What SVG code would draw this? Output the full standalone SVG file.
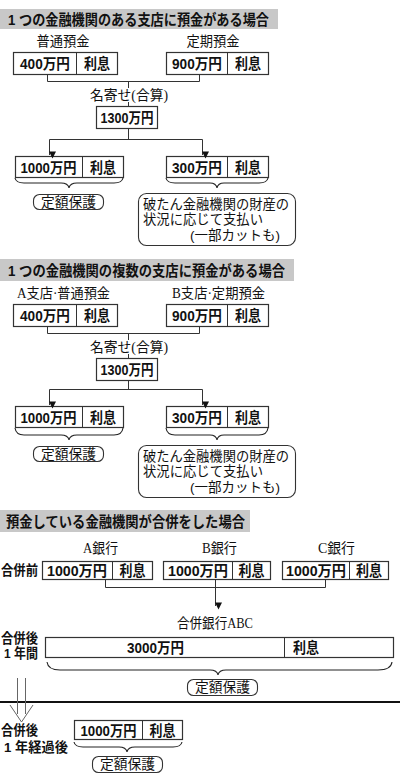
<svg xmlns="http://www.w3.org/2000/svg" width="400" height="774" viewBox="0 0 400 774">
<defs>
<marker id="ah" markerWidth="8" markerHeight="8" refX="4" refY="7" orient="auto-start-reverse" markerUnits="userSpaceOnUse" viewBox="0 0 8 8">
<path d="M0.5,0.5 L7.5,0.5 L4,7.5 Z" fill="#111" transform="rotate(-90 4 4)"/>
</marker>
<style>
.hd{fill:#c8c8c8}
.h{font-family:"Liberation Sans","Noto Sans CJK JP",sans-serif;font-weight:bold;font-size:14.5px;fill:#111}
.b{font-family:"Liberation Sans","Noto Sans CJK JP",sans-serif;font-weight:bold;font-size:14.5px;fill:#111;text-anchor:middle}
.bl{font-family:"Liberation Sans","Noto Sans CJK JP",sans-serif;font-weight:bold;font-size:13.5px;fill:#111}
.l{font-family:"Liberation Serif","Noto Sans CJK JP",serif;font-size:14px;fill:#111}
.lm{font-family:"Liberation Serif","Noto Sans CJK JP",serif;font-size:14px;fill:#111;text-anchor:middle}
.t{font-family:"Liberation Sans","Noto Sans CJK JP",sans-serif;font-size:13.5px;fill:#111}
.box{fill:#fff;stroke:#333;stroke-width:1.2}
.dv{stroke:#333;stroke-width:1}
.ln{fill:none;stroke:#333;stroke-width:1}
.br{fill:none;stroke:#222;stroke-width:1.1}
.rb{fill:#fff;stroke:#333;stroke-width:1.1}
.arw{fill:none;stroke:#666;stroke-width:1}
</style>
</defs>

<!-- Section 1 -->
<g id="header1"><rect class="hd" x="0" y="9" width="278" height="20"/><text class="h" x="8" y="25" textLength="261" lengthAdjust="spacingAndGlyphs">1 つの金融機関のある支店に預金がある場合</text></g>
<g id="lbl1a"><text class="lm" x="63" y="46" textLength="53" lengthAdjust="spacingAndGlyphs">普通預金</text></g>
<g id="lbl1b"><text class="lm" x="213" y="46" textLength="53" lengthAdjust="spacingAndGlyphs">定期預金</text></g>
<g id="s1_400"><rect class="box" x="13.5" y="52.5" width="104" height="22"/><line class="dv" x1="76.5" y1="52.5" x2="76.5" y2="74.5"/><text class="b" x="45" y="68.5" textLength="50" lengthAdjust="spacingAndGlyphs">400万円</text><text class="b" x="97" y="68.5" textLength="26" lengthAdjust="spacingAndGlyphs">利息</text></g>
<g id="s1_900"><rect class="box" x="166.5" y="52.5" width="102" height="22"/><line class="dv" x1="227.5" y1="52.5" x2="227.5" y2="74.5"/><text class="b" x="197" y="68.5" textLength="50" lengthAdjust="spacingAndGlyphs">900万円</text><text class="b" x="248" y="68.5" textLength="26" lengthAdjust="spacingAndGlyphs">利息</text></g>
<g id="lbl1c"><text class="lm" x="129" y="100" textLength="78" lengthAdjust="spacingAndGlyphs">名寄せ(合算)</text></g>
<g id="s1_1300"><rect class="box" x="96.5" y="106.5" width="61" height="22"/><text class="b" x="127" y="122.5" textLength="53" lengthAdjust="spacingAndGlyphs">1300万円</text></g>
<g id="s1_1000"><rect class="box" x="15.5" y="156.5" width="108" height="21"/><line class="dv" x1="82.5" y1="156.5" x2="82.5" y2="177.5"/><text class="b" x="48.5" y="172.5" textLength="56" lengthAdjust="spacingAndGlyphs">1000万円</text><text class="b" x="103" y="172.5" textLength="26" lengthAdjust="spacingAndGlyphs">利息</text></g>
<g id="s1_300"><rect class="box" x="166.5" y="156.5" width="102" height="21"/><line class="dv" x1="227.5" y1="156.5" x2="227.5" y2="177.5"/><text class="b" x="197" y="172.5" textLength="50" lengthAdjust="spacingAndGlyphs">300万円</text><text class="b" x="248" y="172.5" textLength="26" lengthAdjust="spacingAndGlyphs">利息</text></g>
<g id="s1_prot"><rect class="rb" x="33.5" y="194.5" width="70" height="15" rx="6"/><text class="t" x="41" y="206.5" textLength="55" lengthAdjust="spacingAndGlyphs">定額保護</text></g>
<g id="s1_pay"><rect class="rb" x="138.5" y="193.5" width="157" height="52" rx="8"/><text class="t" x="143" y="209" textLength="146" lengthAdjust="spacingAndGlyphs">破たん金融機関の財産の</text><text class="t" x="143" y="224" textLength="120" lengthAdjust="spacingAndGlyphs">状況に応じて支払い</text><text class="t" x="190" y="240" textLength="90" lengthAdjust="spacingAndGlyphs">(一部カットも)</text></g>

<!-- Section 2 -->
<g id="header2"><rect class="hd" x="0" y="259" width="294" height="22"/><text class="h" x="8" y="276" textLength="277" lengthAdjust="spacingAndGlyphs">1 つの金融機関の複数の支店に預金がある場合</text></g>
<g id="lbl2a"><text class="l" x="17" y="298" textLength="93" lengthAdjust="spacingAndGlyphs">A支店·普通預金</text></g>
<g id="lbl2b"><text class="l" x="172" y="298" textLength="93" lengthAdjust="spacingAndGlyphs">B支店·定期預金</text></g>
<g id="s2_400"><rect class="box" x="13.5" y="304.5" width="104" height="22"/><line class="dv" x1="76.5" y1="304.5" x2="76.5" y2="326.5"/><text class="b" x="45" y="320.5" textLength="50" lengthAdjust="spacingAndGlyphs">400万円</text><text class="b" x="97" y="320.5" textLength="26" lengthAdjust="spacingAndGlyphs">利息</text></g>
<g id="s2_900"><rect class="box" x="166.5" y="304.5" width="102" height="22"/><line class="dv" x1="227.5" y1="304.5" x2="227.5" y2="326.5"/><text class="b" x="197" y="320.5" textLength="50" lengthAdjust="spacingAndGlyphs">900万円</text><text class="b" x="248" y="320.5" textLength="26" lengthAdjust="spacingAndGlyphs">利息</text></g>
<g id="lbl2c"><text class="lm" x="129" y="352" textLength="78" lengthAdjust="spacingAndGlyphs">名寄せ(合算)</text></g>
<g id="s2_1300"><rect class="box" x="96.5" y="358.5" width="61" height="22"/><text class="b" x="127" y="374.5" textLength="53" lengthAdjust="spacingAndGlyphs">1300万円</text></g>
<g id="s2_1000"><rect class="box" x="15.5" y="406.5" width="108" height="21"/><line class="dv" x1="82.5" y1="406.5" x2="82.5" y2="427.5"/><text class="b" x="48.5" y="422.5" textLength="56" lengthAdjust="spacingAndGlyphs">1000万円</text><text class="b" x="103" y="422.5" textLength="26" lengthAdjust="spacingAndGlyphs">利息</text></g>
<g id="s2_300"><rect class="box" x="166.5" y="406.5" width="102" height="21"/><line class="dv" x1="227.5" y1="406.5" x2="227.5" y2="427.5"/><text class="b" x="197" y="422.5" textLength="50" lengthAdjust="spacingAndGlyphs">300万円</text><text class="b" x="248" y="422.5" textLength="26" lengthAdjust="spacingAndGlyphs">利息</text></g>
<g id="s2_prot"><rect class="rb" x="33.5" y="446.5" width="70" height="15" rx="6"/><text class="t" x="41" y="458.5" textLength="55" lengthAdjust="spacingAndGlyphs">定額保護</text></g>
<g id="s2_pay"><rect class="rb" x="138.5" y="445.5" width="157" height="52" rx="8"/><text class="t" x="143" y="461" textLength="146" lengthAdjust="spacingAndGlyphs">破たん金融機関の財産の</text><text class="t" x="143" y="476" textLength="120" lengthAdjust="spacingAndGlyphs">状況に応じて支払い</text><text class="t" x="190" y="492" textLength="90" lengthAdjust="spacingAndGlyphs">(一部カットも)</text></g>

<!-- Section 3 -->
<g id="header3"><rect class="hd" x="0" y="510" width="250" height="22"/><text class="h" x="6" y="527" textLength="239" lengthAdjust="spacingAndGlyphs">預金している金融機関が合併をした場合</text></g>
<g id="lblA"><text class="l" x="83" y="553" textLength="35" lengthAdjust="spacingAndGlyphs">A銀行</text></g>
<g id="lblB"><text class="l" x="202" y="553" textLength="35" lengthAdjust="spacingAndGlyphs">B銀行</text></g>
<g id="lblC"><text class="l" x="318" y="553" textLength="37" lengthAdjust="spacingAndGlyphs">C銀行</text></g>
<g id="lblBefore"><text class="bl" x="1" y="575" textLength="37" lengthAdjust="spacingAndGlyphs">合併前</text></g>
<g id="bankA"><rect class="box" x="42.5" y="561.5" width="110" height="18"/><line class="dv" x1="112.5" y1="561.5" x2="112.5" y2="579.5"/><text class="b" x="77" y="576" textLength="60" lengthAdjust="spacingAndGlyphs">1000万円</text><text class="b" x="132.5" y="576" textLength="26" lengthAdjust="spacingAndGlyphs">利息</text></g>
<g id="bankB"><rect class="box" x="163.5" y="561.5" width="107" height="18"/><line class="dv" x1="232.5" y1="561.5" x2="232.5" y2="579.5"/><text class="b" x="198" y="576" textLength="60" lengthAdjust="spacingAndGlyphs">1000万円</text><text class="b" x="251.5" y="576" textLength="26" lengthAdjust="spacingAndGlyphs">利息</text></g>
<g id="bankC"><rect class="box" x="282.5" y="561.5" width="106" height="18"/><line class="dv" x1="349.5" y1="561.5" x2="349.5" y2="579.5"/><text class="b" x="316" y="576" textLength="60" lengthAdjust="spacingAndGlyphs">1000万円</text><text class="b" x="369" y="576" textLength="26" lengthAdjust="spacingAndGlyphs">利息</text></g>
<g id="lblABC"><text class="lm" x="215" y="628" textLength="76" lengthAdjust="spacingAndGlyphs">合併銀行ABC</text></g>
<g id="lblAfter1"><text class="bl" x="1" y="643" textLength="37" lengthAdjust="spacingAndGlyphs">合併後</text><text class="bl" x="4" y="658" textLength="34" lengthAdjust="spacingAndGlyphs">1 年間</text></g>
<g id="bankABC"><rect class="box" x="45.5" y="637.5" width="348" height="20"/><line class="dv" x1="284.5" y1="637.5" x2="284.5" y2="657.5"/><text class="b" x="155.5" y="652.5" textLength="57" lengthAdjust="spacingAndGlyphs">3000万円</text><text class="b" x="306" y="652.5" textLength="26" lengthAdjust="spacingAndGlyphs">利息</text></g>
<g id="s3_prot"><rect class="rb" x="187.5" y="679.5" width="70" height="16" rx="6"/><text class="t" x="195" y="692" textLength="55" lengthAdjust="spacingAndGlyphs">定額保護</text></g>
<g id="lblAfter2"><text class="bl" x="1" y="735" textLength="37" lengthAdjust="spacingAndGlyphs">合併後</text><text class="bl" x="4" y="752" textLength="64" lengthAdjust="spacingAndGlyphs">1 年経過後</text></g>
<g id="after1000"><rect class="box" x="74.5" y="720.5" width="108" height="19"/><line class="dv" x1="142.5" y1="720.5" x2="142.5" y2="739.5"/><text class="b" x="108.5" y="735.5" textLength="56" lengthAdjust="spacingAndGlyphs">1000万円</text><text class="b" x="162.5" y="735.5" textLength="26" lengthAdjust="spacingAndGlyphs">利息</text></g>
<g id="s4_prot"><rect class="rb" x="92.5" y="756.5" width="70" height="16" rx="6"/><text class="t" x="100" y="769" textLength="55" lengthAdjust="spacingAndGlyphs">定額保護</text></g>

<!-- connectors -->
<g id="connectors">
<path class="ln" d="M47.5,74.5 V81.5 H199.5 V74.5 M128.5,81.5 V88 M128.5,102 V106.5"/>
<path class="ln" d="M128.5,128.5 V139.5 M49.5,139.5 H202.5"/>
<path class="ln" d="M49.5,139.5 V155" marker-end="url(#ah)"/>
<path class="ln" d="M202.5,139.5 V155" marker-end="url(#ah)"/>
<path class="br" d="M15,178 Q16,183 24,183 H61 Q68,183 69,188 Q70,183 77,183 H114 Q122,183 123,178"/>
<path class="br" d="M166,178 Q167,183 175,183 H210 Q216,183 217,188 Q218,183 224,183 H259 Q267,183 268,178"/>

<path class="ln" d="M47.5,326.5 V333.5 H199.5 V326.5 M128.5,333.5 V340 M128.5,354 V358.5"/>
<path class="ln" d="M128.5,380.5 V389.5 M49.5,389.5 H202.5"/>
<path class="ln" d="M49.5,389.5 V405" marker-end="url(#ah)"/>
<path class="ln" d="M202.5,389.5 V405" marker-end="url(#ah)"/>
<path class="br" d="M15,428 Q16,435 24,435 H61 Q68,435 69,440 Q70,435 77,435 H114 Q122,435 123,428"/>
<path class="br" d="M166,428 Q167,435 175,435 H210 Q216,435 217,440 Q218,435 224,435 H259 Q267,435 268,428"/>

<path class="ln" d="M105.5,579.5 V587.5 H325.5 V579.5"/>
<path class="ln" d="M215.5,579.5 V606" marker-end="url(#ah)"/>
<path class="br" d="M47,662 Q48,670 60,670 H210 Q217,670 218,675 Q219,670 226,670 H378 Q391,670 392,662"/>
<line x1="0" y1="702" x2="400" y2="702" stroke="#111" stroke-width="2"/>
<path class="arw" d="M17.5,678 V714 M25.5,678 V714 M10,705 L21.5,722 L33,705"/>
<path class="br" d="M74,742 Q75,747 83,747 H119 Q126,747 127,752 Q128,747 135,747 H173 Q181,747 182,742"/>
</g>
</svg>
